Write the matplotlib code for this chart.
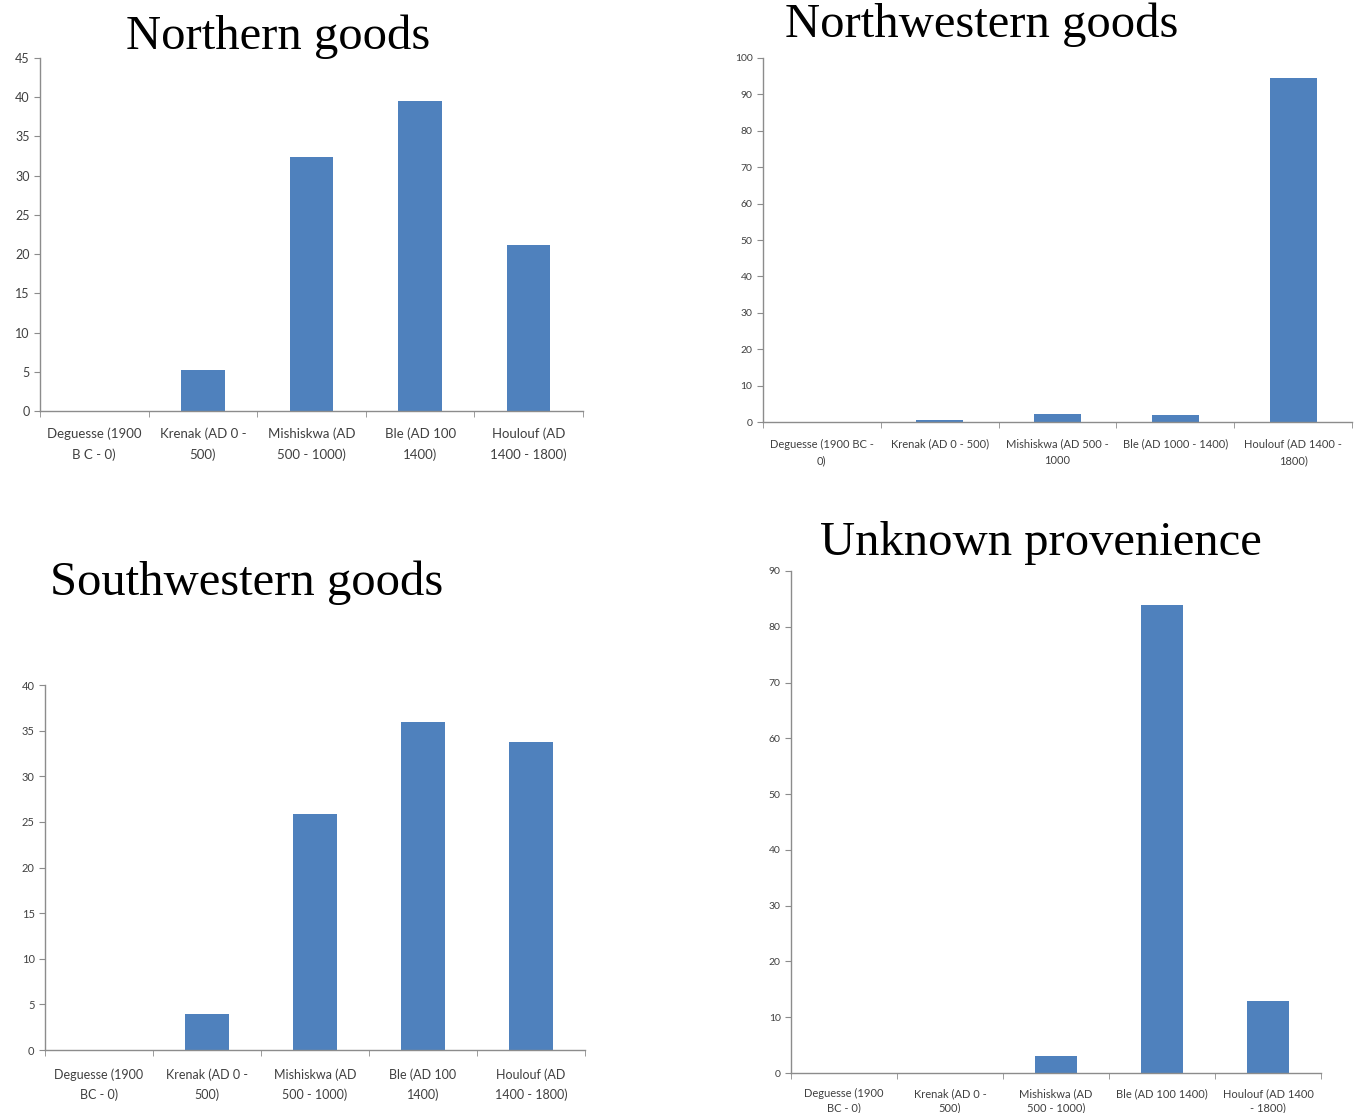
import numpy as np
import matplotlib.pyplot as plt

# periods (categories) and counts
periods = ['Deguesse', 'Krenak', 'Mishiskwa', 'Ble', 'Houlouf']

northern = [0, 5.2, 32.4, 39.5, 21.2]
northwestern = [0, 0.5, 2.2, 1.8, 94.5]
southwestern = [0, 4.0, 25.9, 36.0, 33.8]
unknown = [0, 0, 3.0, 83.9, 12.9]

# tick labels as wrapped in each panel
labels_n = ['Deguesse (1900\nB C - 0)', 'Krenak (AD 0 -\n500)', 'Mishiskwa (AD\n500 - 1000)',
            'Ble (AD 100\n1400)', 'Houlouf (AD\n1400 - 1800)']
labels_nw = ['Deguesse (1900 BC -\n0)', 'Krenak (AD 0 - 500)', 'Mishiskwa (AD 500 -\n1000',
             'Ble (AD 1000 - 1400)', 'Houlouf (AD 1400 -\n1800)']
labels_sw = ['Deguesse (1900\nBC - 0)', 'Krenak (AD 0 -\n500)', 'Mishiskwa (AD\n500 - 1000)',
             'Ble (AD 100\n1400)', 'Houlouf (AD\n1400 - 1800)']
labels_unk = ['Deguesse (1900\nBC - 0)', 'Krenak (AD 0 -\n500)', 'Mishiskwa (AD\n500 - 1000)',
              'Ble (AD 100 1400)', 'Houlouf (AD 1400\n- 1800)']

bar_color = '#4F81BD'
axis_color = '#8C8C8C'

fig = plt.figure(figsize=(13.6, 11.13), dpi=100)


def panel(rect, values, labels, ymax, ystep, xfs, yfs, pad, lsp):
    ax = fig.add_axes(rect)
    x = np.arange(len(values))
    ax.bar(x, values, width=0.4, color=bar_color)
    ax.set_xlim(-0.5, len(values) - 0.5)
    ax.set_ylim(0, ymax)
    ax.set_yticks(np.arange(0, ymax + 1, ystep))
    ax.set_xticks(x)
    ax.set_xticklabels(labels, fontsize=xfs, color='#404040', family='Lato',
                       linespacing=lsp)
    ax.set_xticks(np.arange(-0.5, len(values)), minor=True)
    ax.tick_params(axis='x', which='major', length=0, pad=pad)
    ax.tick_params(axis='x', which='minor', length=4, color=axis_color, direction='out')
    ax.tick_params(axis='y', length=4, color=axis_color, labelsize=yfs, labelcolor='#404040')
    for lbl in ax.get_yticklabels():
        lbl.set_family('Lato')
    for s in ['top', 'right']:
        ax.spines[s].set_visible(False)
    for s in ['left', 'bottom']:
        ax.spines[s].set_color(axis_color)
        ax.spines[s].set_linewidth(1.0)
    return ax


panel([0.0294, 0.6307, 0.3993, 0.3172], northern, labels_n, 45, 5, 9.5, 9, 12, 1.75)
panel([0.5610, 0.6208, 0.4331, 0.3271], northwestern, labels_nw, 100, 10, 8, 7.5, 12, 1.6)
panel([0.0331, 0.0566, 0.3970, 0.3279], southwestern, labels_sw, 40, 5, 9, 8, 13, 1.7)
panel([0.5816, 0.0359, 0.3897, 0.4511], unknown, labels_unk, 90, 10, 8, 7.5, 11, 1.35)

title_kw = dict(family='Liberation Serif', fontsize=35, ha='center', va='center')
fig.text(0.2044, 0.9668, 'Northern goods', **title_kw)
fig.text(0.7220, 0.9775, 'Northwestern goods', **title_kw)
fig.text(0.1810, 0.4762, 'Southwestern goods', **title_kw)
fig.text(0.7654, 0.5121, 'Unknown provenience', **title_kw)

fig.savefig('out.png', dpi=100)
